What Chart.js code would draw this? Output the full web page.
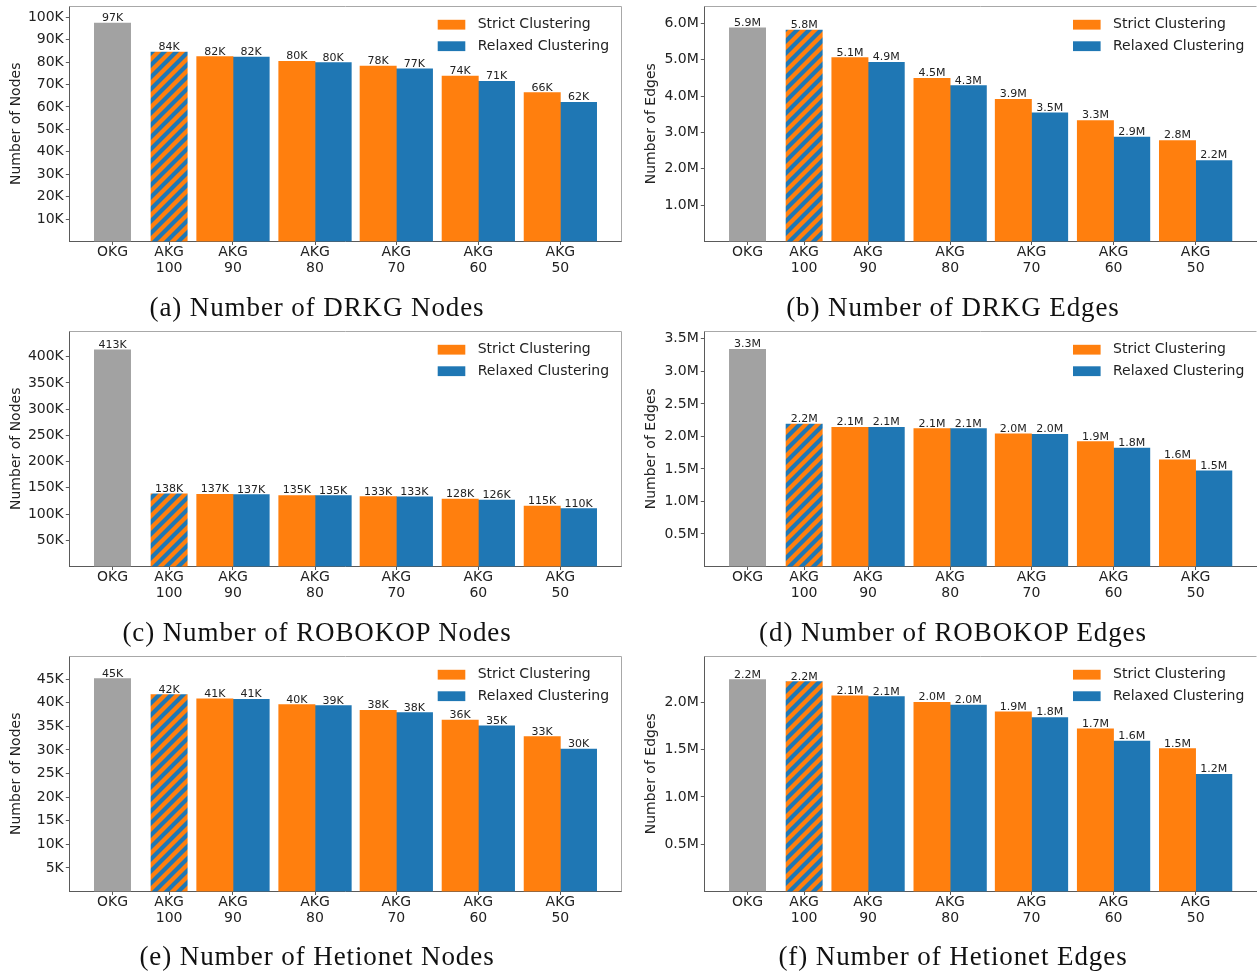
<!DOCTYPE html>
<html lang="en">
<head>
<meta charset="UTF-8">
<title>Knowledge graph sizes: OKG vs AKG</title>
<script src="https://cdn.jsdelivr.net/npm/chart.js@4.4.1/dist/chart.umd.min.js"></script>
<style>
  html, body { margin: 0; padding: 0; background: #fff; }
  body { width: 1257px; height: 972px; position: relative; overflow: hidden; }
  canvas { position: absolute; }
  .caption {
    position: absolute;
    font-family: "Liberation Serif", serif;
    font-size: 27px;
    letter-spacing: 0.9px;
    color: #111;
    white-space: nowrap;
    line-height: 1;
    transform: translate(-50%, -50%);
  }
</style>
</head>
<body>
<script>
// ---- data ----
const categories = ['OKG', 'AKG 100', 'AKG 90', 'AKG 80', 'AKG 70', 'AKG 60', 'AKG 50'];
const seriesNames = ['Strict Clustering', 'Relaxed Clustering'];

// index 0 = OKG, index 1 = AKG 100 (same for both clusterings)
const drkgNodesStrict      = [97400, 84400, 82400, 80300, 78200, 73700, 66400];
const drkgNodesRelaxed     = [97400, 84400, 82200, 79800, 77000, 71400, 62100];
const drkgEdgesStrict      = [5880000, 5820000, 5060000, 4490000, 3910000, 3330000, 2780000];
const drkgEdgesRelaxed     = [5880000, 5820000, 4930000, 4290000, 3540000, 2870000, 2230000];
const robokopNodesStrict   = [413200, 138400, 137400, 135400, 133400, 128400, 115300];
const robokopNodesRelaxed  = [413200, 138400, 137200, 135200, 133000, 126400, 110400];
const robokopEdgesStrict   = [3340000, 2190000, 2140000, 2120000, 2040000, 1920000, 1640000];
const robokopEdgesRelaxed  = [3340000, 2190000, 2140000, 2120000, 2030000, 1820000, 1470000];
const hetionetNodesStrict  = [45100, 41700, 40800, 39600, 38400, 36300, 32800];
const hetionetNodesRelaxed = [45100, 41700, 40700, 39400, 37900, 35100, 30200];
const hetionetEdgesStrict  = [2240000, 2220000, 2070000, 2000000, 1900000, 1720000, 1510000];
const hetionetEdgesRelaxed = [2240000, 2220000, 2060000, 1970000, 1840000, 1590000, 1240000];

// ---- layout / style ----
const ORANGE = '#ff7f0e', BLUE = '#1f77b4', GRAY = '#a2a2a2';
const TEXT = '#222', AXIS = '#5a5a5a';
const SANS = '"DejaVu Sans", sans-serif';
const xPos = [1.19, 2.75, 4.51, 6.77, 9.01, 11.27, 13.53];   // group centres, in bar widths
const xMax = 15.22;
const BAR_PX = 36.3;

const panels = [
  { strict: drkgNodesStrict, relaxed: drkgNodesRelaxed, unit: 'K', yMax: 105000, yStep: 10000,
    yTitle: 'Number of Nodes', caption: '(a) Number of DRKG Nodes', col: 0, row: 0 },
  { strict: drkgEdgesStrict, relaxed: drkgEdgesRelaxed, unit: 'M', yMax: 6480000, yStep: 1000000,
    yTitle: 'Number of Edges', caption: '(b) Number of DRKG Edges', col: 1, row: 0 },
  { strict: robokopNodesStrict, relaxed: robokopNodesRelaxed, unit: 'K', yMax: 449000, yStep: 50000,
    yTitle: 'Number of Nodes', caption: '(c) Number of ROBOKOP Nodes', col: 0, row: 1 },
  { strict: robokopEdgesStrict, relaxed: robokopEdgesRelaxed, unit: 'M', yMax: 3620000, yStep: 500000,
    yTitle: 'Number of Edges', caption: '(d) Number of ROBOKOP Edges', col: 1, row: 1 },
  { strict: hetionetNodesStrict, relaxed: hetionetNodesRelaxed, unit: 'K', yMax: 49900, yStep: 5000,
    yTitle: 'Number of Nodes', caption: '(e) Number of Hetionet Nodes', col: 0, row: 2 },
  { strict: hetionetEdgesStrict, relaxed: hetionetEdgesRelaxed, unit: 'M', yMax: 2490000, yStep: 500000,
    yTitle: 'Number of Edges', caption: '(f) Number of Hetionet Edges', col: 1, row: 2 }
];

const fmtK = v => Math.round(v / 1000) + 'K';
const fmtM = v => (v / 1e6).toFixed(1) + 'M';
const tickLabels = categories.map(c => c.split(' '));

function hatchPattern() {
  const p = 12;
  const c = document.createElement('canvas');
  c.width = p; c.height = p;
  const g = c.getContext('2d');
  g.fillStyle = ORANGE;
  g.fillRect(0, 0, p, p);
  g.strokeStyle = BLUE;
  g.lineWidth = 4.2;
  g.beginPath();
  g.moveTo(-p / 2, p / 2); g.lineTo(p / 2, -p / 2);
  g.moveTo(0, p); g.lineTo(p, 0);
  g.moveTo(p / 2, 3 * p / 2); g.lineTo(3 * p / 2, p / 2);
  g.stroke();
  return g.createPattern(c, 'repeat');
}
const hatch = hatchPattern();

// spines on top/right, value labels and legend
const decor = {
  id: 'decor',
  afterDatasetsDraw(chart, args, opts) {
    const { ctx, chartArea: a } = chart;
    const fmt = opts.unit === 'K' ? fmtK : fmtM;
    ctx.save();
    ctx.strokeStyle = '#a8a8a8';
    ctx.lineWidth = 1;
    ctx.beginPath();
    ctx.moveTo(a.left, Math.round(a.top) + 0.5);
    ctx.lineTo(Math.round(a.right) - 0.5, Math.round(a.top) + 0.5);
    if (opts.rightSpine) ctx.lineTo(Math.round(a.right) - 0.5, a.bottom);
    ctx.stroke();

    ctx.font = '11px ' + SANS;
    ctx.fillStyle = TEXT;
    ctx.textAlign = 'center';
    ctx.textBaseline = 'alphabetic';
    chart.data.datasets.forEach((ds, di) => {
      chart.getDatasetMeta(di).data.forEach((bar, i) => {
        ctx.fillText(fmt(ds.data[i].y), bar.x, bar.y - 2);
      });
    });

    const lx = a.right - 184, ly = a.top + 18.7;
    ctx.font = '14px ' + SANS;
    ctx.textAlign = 'left';
    ctx.textBaseline = 'middle';
    [ORANGE, BLUE].forEach((c, i) => {
      const y = ly + i * 21.5;
      ctx.fillStyle = c;
      ctx.fillRect(lx, y - 4.9, 27.6, 9.8);
      ctx.fillStyle = TEXT;
      ctx.fillText(seriesNames[i], lx + 40, y);
    });
    ctx.restore();
  }
};

panels.forEach(p => {
  const left = p.col ? 635 : 0, top = p.row * 325;
  const cv = document.createElement('canvas');
  cv.width = p.col ? 622 : 630;
  cv.height = 300;
  cv.style.left = left + 'px';
  cv.style.top = top + 'px';
  document.body.appendChild(cv);

  const cap = document.createElement('div');
  cap.className = 'caption';
  cap.textContent = p.caption;
  cap.style.left = (p.col ? 953 : 317) + 'px';
  cap.style.top = (307 + p.row * 324.5) + 'px';
  document.body.appendChild(cap);

  const pair = (arr, d) => arr.slice(2).map((v, i) => ({ x: xPos[i + 2] + d, y: v }));
  const yFmt = p.unit === 'K' ? (v => (v / 1000) + 'K') : (v => (v / 1e6).toFixed(1) + 'M');

  new Chart(cv, {
    type: 'bar',
    data: {
      datasets: [
        { label: categories[0], data: [{ x: xPos[0], y: p.strict[0] }], backgroundColor: GRAY },
        { label: categories[1], data: [{ x: xPos[1], y: p.strict[1] }], backgroundColor: hatch },
        { label: seriesNames[0], data: pair(p.strict, -0.5), backgroundColor: ORANGE },
        { label: seriesNames[1], data: pair(p.relaxed, 0.5), backgroundColor: BLUE }
      ]
    },
    options: {
      responsive: false,
      animation: false,
      devicePixelRatio: 1,
      datasets: { bar: { grouped: false, barThickness: BAR_PX, borderWidth: 0 } },
      layout: { padding: { top: 6, right: p.col ? 0 : 8.3, bottom: 0, left: 0 } },
      plugins: {
        legend: { display: false },
        tooltip: { enabled: false },
        decor: { unit: p.unit, rightSpine: !p.col }
      },
      scales: {
        x: {
          type: 'linear',
          min: 0,
          max: xMax,
          offset: false,
          grid: { offset: false, drawOnChartArea: false, tickLength: 3.5, tickColor: AXIS, tickWidth: 1 },
          border: { color: AXIS },
          ticks: {
            autoSkip: false, maxRotation: 0, padding: 0, color: TEXT,
            font: { family: SANS, size: 14, lineHeight: 1.12 },
            callback: (v, i) => tickLabels[i]
          },
          afterBuildTicks: ax => { ax.ticks = xPos.map(v => ({ value: v })); },
          afterFit: ax => { ax.height = 58.5; ax.paddingLeft = 0; ax.paddingRight = 0; }
        },
        y: {
          min: 0,
          max: p.yMax,
          grid: { drawOnChartArea: false, tickLength: 3.5, tickColor: AXIS, tickWidth: 1 },
          border: { color: AXIS },
          ticks: { padding: 2, color: TEXT, font: { family: SANS, size: 14 }, callback: v => yFmt(v) },
          afterBuildTicks: ax => {
            const t = [];
            for (let v = p.yStep; v <= p.yMax + 1; v += p.yStep) t.push({ value: v });
            ax.ticks = t;
          },
          afterFit: ax => { ax.width = 69.3; ax.paddingTop = 0; ax.paddingBottom = 0; },
          title: {
            display: true, text: p.yTitle, color: TEXT,
            font: { family: SANS, size: 14 }, padding: { top: 8.3, bottom: 0 }
          }
        }
      }
    },
    plugins: [decor]
  });
});
</script>
</body>
</html>
